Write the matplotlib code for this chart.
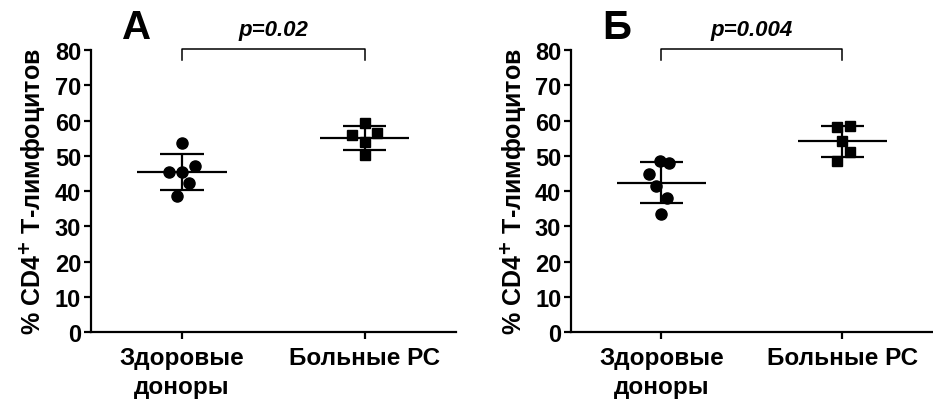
import numpy as np
import matplotlib
matplotlib.use("Agg")
import matplotlib.pyplot as plt

plt.rcParams['font.family'] = ['Liberation Sans', 'DejaVu Sans']

# Data
groups = ["Здоровые\nдоноры", "Больные РС"]

a_healthy = [53.6, 47.2, 45.3, 45.3, 42.3, 38.7]
a_patients = [59.4, 55.8, 56.4, 53.8, 50.3]
b_healthy = [48.4, 47.9, 44.9, 41.3, 37.9, 33.6]
b_patients = [58.1, 58.5, 54.1, 51.1, 48.5]

# horizontal scatter of points (as in the original)
a_healthy_dx = [0.0, 0.07, -0.07, 0.0, 0.04, -0.03]
a_patients_dx = [0.0, -0.07, 0.07, 0.0, 0.0]
b_healthy_dx = [-0.01, 0.04, -0.07, -0.03, 0.03, 0.0]
b_patients_dx = [-0.03, 0.04, 0.0, 0.04, -0.03]

panel_letters = ["А", "Б"]
p_values = ["p=0.02", "p=0.004"]
ylabel = "% CD4$^{\\mathbf{+}}$ Т-лимфоцитов"

fig = plt.figure(figsize=(9.33, 4.1), dpi=100)
ax1 = fig.add_axes([0.0975, 0.1878, 0.391, 0.6878])
ax2 = fig.add_axes([0.612, 0.1878, 0.388, 0.6878])


def draw_panel(ax, healthy, patients, hdx, pdx, letter, ptext):
    sets = [(healthy, hdx, "o", 8), (patients, pdx, "s", 7.5)]
    for i, (vals, dx, m, ms) in enumerate(sets):
        vals = np.array(vals)
        ax.plot(i + np.array(dx), vals, linestyle="none", marker=m,
                markersize=ms, color="black", zorder=3, clip_on=False)
        mean = vals.mean()
        sd = vals.std(ddof=1)
        ax.hlines(mean, i - 0.245, i + 0.245, color="black", lw=1.6, zorder=2)
        ax.hlines([mean - sd, mean + sd], i - 0.12, i + 0.12, color="black",
                  lw=1.6, zorder=2)
        ax.vlines(i, mean - sd, mean + sd, color="black", lw=1.6, zorder=2)

    ax.set_xlim(-0.5, 1.5)
    ax.set_ylim(0, 80)
    ax.set_yticks(range(0, 81, 10))
    ax.set_xticks([0, 1])
    ax.set_xticklabels(groups, fontsize=17.5, fontweight="bold", linespacing=1.35)
    for lab in ax.get_yticklabels():
        lab.set_fontsize(17)
        lab.set_fontweight("bold")
    for s in ["top", "right"]:
        ax.spines[s].set_visible(False)
    for s in ["left", "bottom"]:
        ax.spines[s].set_linewidth(1.6)
    ax.tick_params(width=1.6, length=5, pad=2)
    ax.tick_params(axis="x", pad=5)
    ax.set_ylabel(ylabel, fontsize=18, fontweight="bold")
    ax.yaxis.set_label_coords(-0.12, 0.5)

    # significance bracket
    ax.plot([0, 0, 1, 1], [77.3, 80.3, 80.3, 77.3], color="black", lw=1.1,
            clip_on=False)
    ax.text(0.5, 85.8, ptext, ha="center", va="center", fontsize=16,
            fontweight="bold", style="italic", clip_on=False)
    ax.text(-0.25, 86.5, letter, ha="center", va="center", fontsize=29,
            fontweight="bold", clip_on=False)


draw_panel(ax1, a_healthy, a_patients, a_healthy_dx, a_patients_dx,
           panel_letters[0], p_values[0])
draw_panel(ax2, b_healthy, b_patients, b_healthy_dx, b_patients_dx,
           panel_letters[1], p_values[1])

fig.savefig("out.png", dpi=100)
